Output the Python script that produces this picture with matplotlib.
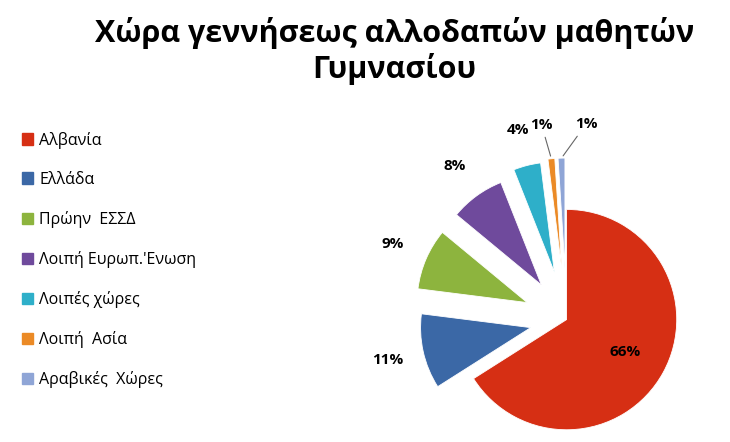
import numpy as np
import matplotlib.pyplot as plt

labels = ['Αλβανία', 'Ελλάδα', 'Πρώην  ΕΣΣΔ', "Λοιπή Ευρωπ.'Ενωση",
          'Λοιπές χώρες', 'Λοιπή  Ασία', 'Αραβικές  Χώρες']
values = [66, 11, 9, 8, 4, 1, 1]
colors = ['#D62F14', '#3B68A6', '#8DB43E', '#6F4A9C', '#2EAFC9', '#EB8A26', '#8FA5D6']
explode = [0.0, 0.3, 0.35, 0.35, 0.4, 0.42, 0.42]
label_r = [0.6, 1.2, 1.2, 1.2, 1.2, 1.2, 1.2]

plt.rcParams['font.family'] = ['Open Sans', 'DejaVu Sans']

fig = plt.figure(figsize=(7.3, 4.42), dpi=100)
fig.text(0.54, 0.885, 'Χώρα γεννήσεως αλλοδαπών μαθητών\nΓυμνασίου', ha='center', va='center',
         fontsize=22, fontweight='bold', linespacing=1.15)

ax = fig.add_axes([0.49, 0.0, 0.48, 0.72])
wedges, _ = ax.pie(values, colors=colors, explode=explode, startangle=90,
                   counterclock=False, radius=0.9,
                   wedgeprops=dict(edgecolor='white', linewidth=0.6))
ax.set_aspect('equal')
ax.set_xlim(-1.55, 1.0)
ax.set_ylim(-1.0, 1.6)

for i, (w, v, e, r) in enumerate(zip(wedges, values, explode, label_r)):
    ang = np.deg2rad((w.theta1 + w.theta2) / 2)
    if i == 0:
        x, y = 0.55 * np.cos(ang), 0.55 * np.sin(ang)
        ax.text(x, y, f'{v}%', ha='center', va='center', fontsize=11, fontweight='bold')
        continue
    if v == 1:
        tip = (e + 0.9) * np.array([np.cos(ang), np.sin(ang)])
        dx = -0.08 if i == 5 else 0.2
        lab = (tip[0] + dx, tip[1] + 0.22)
        ax.annotate(f'{v}%', xy=tip, xytext=lab, ha='center', va='bottom',
                    fontsize=11, fontweight='bold',
                    arrowprops=dict(arrowstyle='-', color='#666666', lw=0.8))
        continue
    x = (e + r) * np.cos(ang)
    y = (e + r) * np.sin(ang)
    ax.text(x, y, f'{v}%', ha='center', va='center', fontsize=11, fontweight='bold')

handles = [plt.Rectangle((0, 0), 1, 1, color=c) for c in colors]
fig.legend(handles, labels, loc='upper left', bbox_to_anchor=(0.01, 0.735), frameon=False,
           fontsize=11.5, handlelength=0.7, handleheight=0.7, labelspacing=1.45, handletextpad=0.4)

fig.savefig('out.png', dpi=100)
